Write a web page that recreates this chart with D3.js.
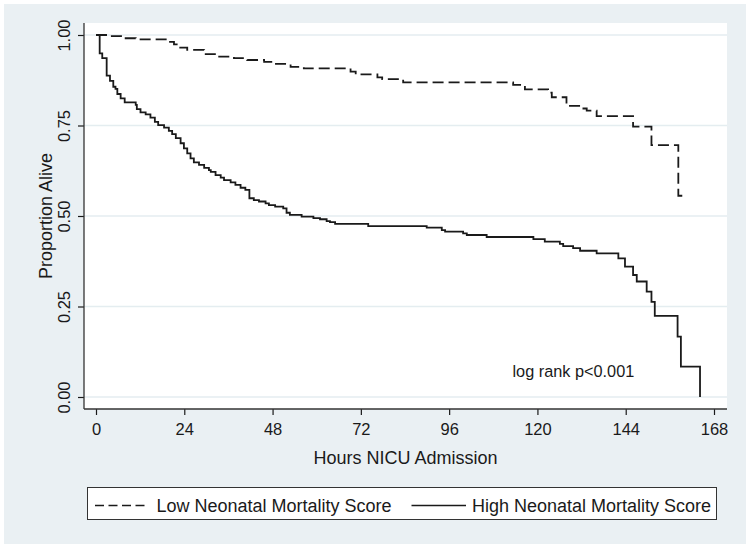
<!DOCTYPE html>
<html>
<head>
<meta charset="utf-8">
<script src="https://cdn.jsdelivr.net/npm/d3@7"></script>
<style>
  html, body { margin: 0; padding: 0; background: #ffffff; }
  svg { display: block; font-family: "Liberation Sans", Arial, Helvetica, sans-serif; }
</style>
</head>
<body>
<svg id="chart" width="750" height="548"></svg>
<script>
// ---- Data ----
const xTicks = [0, 24, 48, 72, 96, 120, 144, 168];
const yTicks = [0, 0.25, 0.5, 0.75, 1.0];

// Low Neonatal Mortality Score: Kaplan–Meier steps (hours, proportion alive)
const lowTime = [0, 4.0, 7.6, 10.8, 19.4, 21.2, 22.6, 24.8, 29.4, 33.0, 37.5, 41.1, 45.7, 48.4, 52.9, 56.5, 69.2, 70.6, 76.5, 77.8, 83.5, 113.4, 116.6, 122.9, 123.9, 127.9, 132.0, 133.4, 136.1, 146.0, 151.0, 158.3, 160.4];
const lowSurv = [1.0, 0.997, 0.991, 0.988, 0.981, 0.974, 0.965, 0.959, 0.947, 0.940, 0.936, 0.931, 0.926, 0.920, 0.912, 0.908, 0.899, 0.891, 0.883, 0.878, 0.869, 0.862, 0.850, 0.841, 0.828, 0.804, 0.797, 0.791, 0.776, 0.747, 0.696, 0.556, 0.556];

// High Neonatal Mortality Score
const highTime = [0, 1.0, 1.7, 2.9, 3.8, 4.7, 5.3, 5.8, 6.7, 7.8, 10.8, 11.1, 12.1, 13.5, 14.8, 16.0, 16.9, 18.5, 19.8, 20.7, 21.7, 23.0, 23.9, 24.8, 25.7, 26.6, 28.0, 29.4, 30.7, 31.2, 32.5, 33.9, 34.8, 36.6, 37.9, 39.3, 40.6, 41.7, 42.9, 44.3, 46.1, 47.0, 48.7, 50.9, 51.8, 52.7, 55.9, 59.1, 60.9, 62.7, 63.6, 65.0, 74.0, 89.9, 94.0, 94.9, 99.8, 100.8, 106.2, 118.9, 122.0, 126.1, 127.0, 129.7, 131.6, 136.1, 142.0, 143.8, 146.0, 147.0, 149.7, 151.0, 151.9, 158.1, 159.0, 164.2];
const highSurv = [1.0, 0.949, 0.936, 0.888, 0.873, 0.857, 0.851, 0.837, 0.825, 0.814, 0.807, 0.795, 0.786, 0.781, 0.772, 0.760, 0.751, 0.744, 0.735, 0.726, 0.715, 0.701, 0.687, 0.673, 0.659, 0.648, 0.641, 0.633, 0.627, 0.622, 0.613, 0.606, 0.599, 0.593, 0.586, 0.578, 0.572, 0.549, 0.544, 0.540, 0.535, 0.530, 0.526, 0.521, 0.509, 0.503, 0.498, 0.494, 0.491, 0.486, 0.483, 0.478, 0.472, 0.468, 0.461, 0.457, 0.452, 0.4475, 0.442, 0.436, 0.429, 0.423, 0.417, 0.411, 0.404, 0.397, 0.383, 0.360, 0.337, 0.319, 0.291, 0.263, 0.224, 0.167, 0.084, 0.0];

const seriesNames = ["Low Neonatal Mortality Score", "High Neonatal Mortality Score"];
const xTitle = "Hours NICU Admission";
const yTitle = "Proportion Alive";
const note = "log rank p<0.001";

// ---- Drawing ----
const svg = d3.select("#chart");
const bgColor = "#eaf0f3";
const gridColor = "#e4edf0";
const ink = "#1a1a1a";

const plot = { left: 84, right: 727, top: 23, bottom: 409 };
const x = d3.scaleLinear().domain([0, 168]).range([96, 714]);
const y = d3.scaleLinear().domain([0, 1]).range([397, 35]);

// outer background
svg.append("rect").attr("x", 4).attr("y", 4).attr("width", 742).attr("height", 540).attr("fill", bgColor);
// plot region
svg.append("rect").attr("x", plot.left).attr("y", plot.top)
  .attr("width", plot.right - plot.left).attr("height", plot.bottom - plot.top).attr("fill", "#ffffff");

// gridlines
svg.append("g").selectAll("line").data(yTicks).join("line")
  .attr("x1", plot.left).attr("x2", plot.right)
  .attr("y1", d => y(d)).attr("y2", d => y(d))
  .attr("stroke", gridColor).attr("stroke-width", 1.3);

// y axis
const yAxis = d3.axisLeft(y).tickValues(yTicks).tickSize(6).tickPadding(0).tickFormat(d3.format(".2f"));
const gy = svg.append("g").attr("transform", `translate(${plot.left},0)`).call(yAxis);
gy.select(".domain").remove();
gy.selectAll(".tick line").attr("stroke", ink).attr("stroke-width", 1.2);
gy.selectAll(".tick text").remove();
gy.selectAll(".tick").append("text")
  .attr("transform", "translate(-14,0) rotate(-90)")
  .attr("text-anchor", "middle")
  .attr("fill", ink)
  .style("font-size", "16.5px")
  .text(d => d3.format(".2f")(d));
svg.append("line").attr("x1", plot.left).attr("x2", plot.left).attr("y1", plot.top).attr("y2", plot.bottom)
  .attr("stroke", "#333").attr("stroke-width", 1.3);

// x axis
const xAxis = d3.axisBottom(x).tickValues(xTicks).tickSize(6).tickPadding(8).tickFormat(d3.format("d"));
const gx = svg.append("g").attr("transform", `translate(0,${plot.bottom})`).call(xAxis);
gx.select(".domain").remove();
gx.selectAll(".tick line").attr("stroke", ink).attr("stroke-width", 1.2);
gx.selectAll(".tick text").attr("fill", ink).style("font-size", "16.5px").attr("font-family", null);
svg.append("line").attr("x1", plot.left).attr("x2", plot.right).attr("y1", plot.bottom).attr("y2", plot.bottom)
  .attr("stroke", "#333").attr("stroke-width", 1.3);

// axis titles
svg.append("text").attr("x", (plot.left + plot.right) / 2).attr("y", 463.5)
  .attr("text-anchor", "middle").attr("fill", ink).style("font-size", "18px").text(xTitle);
svg.append("text").attr("transform", `translate(52,${(plot.top + plot.bottom) / 2}) rotate(-90)`)
  .attr("text-anchor", "middle").attr("fill", ink).style("font-size", "18px").text(yTitle);

// survival curves
const line = d3.line().x(d => x(d[0])).y(d => y(d[1])).curve(d3.curveStepAfter);
const lowData = lowTime.map((t, i) => [t, lowSurv[i]]);
const highData = highTime.map((t, i) => [t, highSurv[i]]);

svg.append("path").datum(highData).attr("d", line)
  .attr("fill", "none").attr("stroke", ink).attr("stroke-width", 1.8);
svg.append("path").datum(lowData).attr("d", line)
  .attr("fill", "none").attr("stroke", ink).attr("stroke-width", 1.8)
  .attr("stroke-dasharray", "11,5");

// annotation
svg.append("text").attr("x", 512.5).attr("y", 376.5).attr("fill", ink)
  .style("font-size", "16.3px").text(note);

// legend
svg.append("rect").attr("x", 87.5).attr("y", 487.5).attr("width", 629).attr("height", 32)
  .attr("fill", "#ffffff").attr("stroke", "#333").attr("stroke-width", 1);
const ly = 505.5;
svg.append("line").attr("x1", 95).attr("x2", 149).attr("y1", ly).attr("y2", ly)
  .attr("stroke", ink).attr("stroke-width", 1.5).attr("stroke-dasharray", "9,4.5");
svg.append("text").attr("x", 156.5).attr("y", ly + 6.5).attr("fill", ink).style("font-size", "18px").text(seriesNames[0]);
svg.append("line").attr("x1", 411.5).attr("x2", 466).attr("y1", ly).attr("y2", ly)
  .attr("stroke", ink).attr("stroke-width", 1.5);
svg.append("text").attr("x", 472).attr("y", ly + 6.5).attr("fill", ink).style("font-size", "18px").text(seriesNames[1]);
</script>
</body>
</html>
